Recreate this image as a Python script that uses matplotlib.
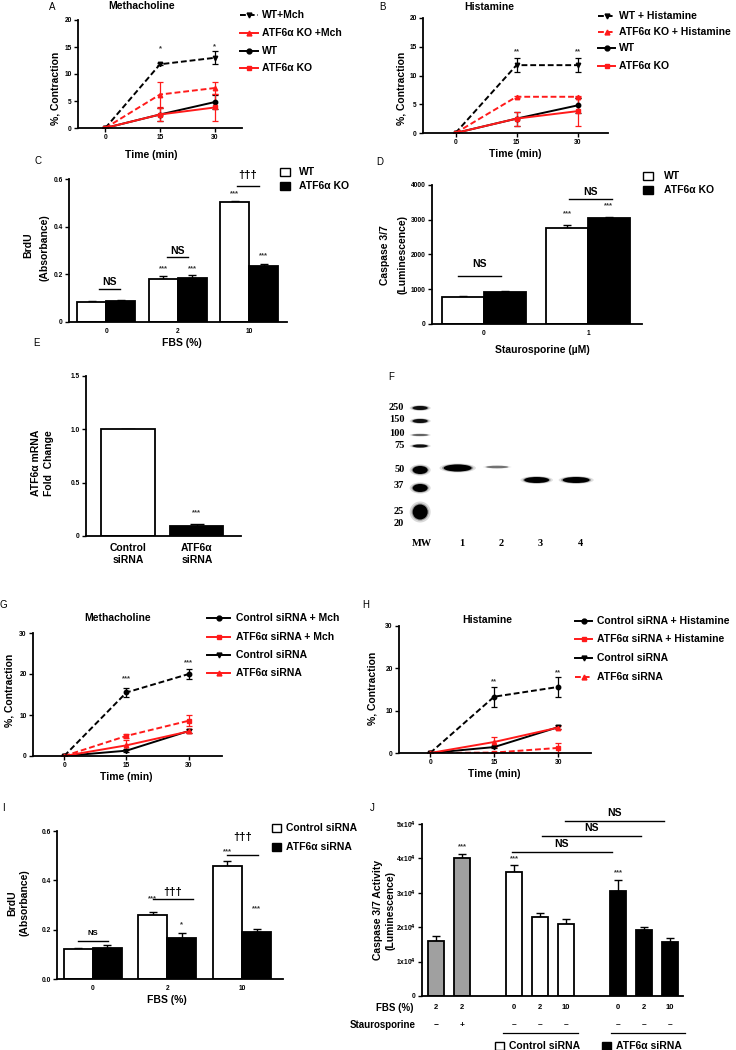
import matplotlib
matplotlib.use('Agg')
import matplotlib.pyplot as plt
from matplotlib.lines import Line2D
from matplotlib.patches import Rectangle, Ellipse
from matplotlib.transforms import blended_transform_factory

plt.rcParams['font.family'] = ['Liberation Sans', 'DejaVu Sans']
plt.rcParams['font.weight'] = 'bold'
plt.rcParams['mathtext.default'] = 'bf'

# ---------------- data ----------------
times = [0, 15, 30]

# A - methacholine, WT vs ATF6a KO
a_wt_mch = [0, 11.8, 13.0]
a_wt_mch_err = [0, 0.2, 1.2]
a_ko_mch = [0, 6.2, 7.4]
a_ko_mch_err = [0, 2.3, 1.1]
a_wt = [0, 2.5, 4.8]
a_wt_err = [0, 1.2, 1.3]
a_ko = [0, 2.5, 3.8]
a_ko_err = [0, 1.2, 2.5]
a_labels = ['WT+Mch', 'ATF6α KO +Mch', 'WT', 'ATF6α KO']

# B - histamine
b_wt_his = [0, 11.8, 11.8]
b_wt_his_err = [0, 1.2, 1.2]
b_ko_his = [0, 6.3, 6.3]
b_ko_his_err = [0, 0.2, 0.2]
b_wt = [0, 2.5, 4.8]
b_wt_err = [0, 1.2, 1.3]
b_ko = [0, 2.5, 3.8]
b_ko_err = [0, 1.2, 2.5]
b_labels = ['WT + Histamine', 'ATF6α KO + Histamine', 'WT', 'ATF6α KO']

# C - BrdU WT vs KO
fbs_levels = ['0', '2', '10']
c_wt = [0.086, 0.182, 0.505]
c_wt_err = [0.002, 0.010, 0.003]
c_ko = [0.089, 0.186, 0.234]
c_ko_err = [0.002, 0.010, 0.010]

# D - caspase WT vs KO
stauro_levels = ['0', '1']
d_wt = [780, 2760]
d_wt_err = [40, 100]
d_ko = [920, 3050]
d_ko_err = [20, 30]

# E - ATF6a mRNA
e_groups = ['Control\nsiRNA', 'ATF6α\nsiRNA']
e_vals = [1.0, 0.095]
e_err = [0.0, 0.02]

# F - western blot (kDa ladder and band migration)
mw_kda = ['250', '150', '100', '75', '50', '37', '25', '20']
mw_label_pos = [12, 25, 38, 51, 75, 90, 116, 129]
ladder_pos = [13, 26, 40, 51, 75, 93, 117]
ladder_thick = [4, 4, 2, 3, 8, 8, 15]
ladder_dark = [0.9, 0.9, 0.35, 0.9, 1.0, 1.0, 1.0]
lane_names = ['MW', '1', '2', '3', '4']
band_lane = [1, 2, 3, 4]
band_pos = [73, 72, 85, 85]
band_thick = [7, 2.5, 6, 6]
band_len = [28, 22, 25, 27]
band_dark = [1.0, 0.45, 1.0, 1.0]

# G - methacholine, siRNA
g_ctrl_mch = [0, 15.5, 20.0]
g_ctrl_mch_err = [0, 1.2, 1.2]
g_atf_mch = [0, 4.9, 8.6]
g_atf_mch_err = [0, 0.5, 1.3]
g_ctrl = [0, 1.3, 6.1]
g_ctrl_err = [0, 0.3, 0.4]
g_atf = [0, 2.6, 6.0]
g_atf_err = [0, 1.2, 0.5]
g_labels = ['Control siRNA + Mch', 'ATF6α siRNA + Mch', 'Control siRNA', 'ATF6α siRNA']

# H - histamine, siRNA
h_ctrl_his = [0, 13.3, 15.6]
h_ctrl_his_err = [0, 2.4, 2.3]
h_atf_his = [0, 0.1, 1.2]
h_atf_his_err = [0, 0.1, 1.2]
h_ctrl = [0, 1.4, 6.1]
h_ctrl_err = [0, 0.2, 0.4]
h_atf = [0, 2.6, 6.0]
h_atf_err = [0, 1.2, 0.4]
h_labels = ['Control siRNA + Histamine', 'ATF6α siRNA + Histamine', 'Control siRNA', 'ATF6α siRNA']

# I - BrdU siRNA
i_ctrl = [0.122, 0.260, 0.460]
i_ctrl_err = [0.005, 0.012, 0.020]
i_atf = [0.127, 0.165, 0.192]
i_atf_err = [0.010, 0.022, 0.012]

# J - caspase siRNA
j_pos = [0, 1, 3, 4, 5, 7, 8, 9]
j_vals = [1.6e4, 4.0e4, 3.6e4, 2.3e4, 2.1e4, 3.05e4, 1.93e4, 1.58e4]
j_err = [0.15e4, 0.12e4, 0.22e4, 0.1e4, 0.13e4, 0.33e4, 0.08e4, 0.1e4]
j_fbs = ['2', '2', '0', '2', '10', '0', '2', '10']
j_stauro = ['−', '+', '–', '–', '–', '–', '–', '–']
j_colors = ['#a0a0a0', '#a0a0a0', 'white', 'white', 'white', 'black', 'black', 'black']

RED = '#ff1a1a'
W, H = 736, 1050
fig = plt.figure(figsize=(W / 100, H / 100), dpi=100)


def px_ax(l, t, r, b):
    return fig.add_axes([l / W, 1 - b / H, (r - l) / W, (b - t) / H])


def ftext(x, y, s, **kw):
    kw.setdefault('ha', 'center')
    kw.setdefault('va', 'center')
    return fig.text(x / W, 1 - y / H, s, **kw)


def style(ax):
    for s in ['top', 'right']:
        ax.spines[s].set_visible(False)
    for s in ['left', 'bottom']:
        ax.spines[s].set_linewidth(1.3)
    ax.tick_params(width=1.0, length=3, labelsize=4.8, pad=1.5)


def legend_rows(x0, x1, xt, ys, styles, labels, fs=7.5):
    for y, (c, ls, m), lab in zip(ys, styles, labels):
        yy = 1 - y / H
        fig.add_artist(Line2D([x0 / W, x1 / W], [yy, yy], color=c, ls=ls, lw=1.4,
                              dashes=(3, 1.5) if ls == '--' else (None, None),
                              transform=fig.transFigure))
        fig.add_artist(Line2D([(x0 + x1) / 2 / W], [yy], color=c, marker=m, ms=3.5,
                              transform=fig.transFigure))
        ftext(xt, y, lab, ha='left', fontsize=fs)


def box_legend(x, xt, ys, colors, labels, fs=7.5, size=10):
    for y, c, lab in zip(ys, colors, labels):
        fig.add_artist(Rectangle(((x) / W, 1 - (y + size * 0.4) / H), size / W, size * 0.8 / H,
                                 facecolor=c, edgecolor='black', lw=1.0, transform=fig.transFigure))
        ftext(xt, y, lab, ha='left', fontsize=fs)


def line_panel(ax, series, xlim, ylim, yticks):
    for y, err, c, ls, m in series:
        ax.errorbar(times, y, yerr=err, color=c, ls=ls, marker=m, ms=3.2, lw=1.4,
                    capsize=2.5, elinewidth=0.9, capthick=0.9,
                    dashes=(3, 1.5) if ls == '--' else (None, None))
    ax.set_xlim(*xlim)
    ax.set_ylim(*ylim)
    ax.set_xticks(times)
    ax.set_yticks(yticks)
    style(ax)


def bar_pair(ax, left, left_err, right, right_err, width, lcolor, rcolor):
    xs = list(range(len(left)))
    xl = [x - width / 2 for x in xs]
    xr = [x + width / 2 for x in xs]
    for xx, v, e, c in [(xl, left, left_err, lcolor), (xr, right, right_err, rcolor)]:
        ax.bar(xx, v, width, color=c, edgecolor='black', lw=1.3, zorder=2)
        ax.errorbar(xx, v, yerr=[[0] * len(v), e], fmt='none', ecolor='black',
                    capsize=3, elinewidth=1.0, capthick=1.0, zorder=1)
    style(ax)
    return xl, xr


def sig(ax, x0, x1, y, text, ty, fs=7.5):
    ax.plot([x0, x1], [y, y], color='black', lw=1.0, clip_on=False)
    ax.text((x0 + x1) / 2, ty, text, ha='center', va='center', fontsize=fs, clip_on=False)


def star(ax, x, y, text='***', fs=5.5):
    ax.text(x, y, text, ha='center', va='center', fontsize=fs, color='#333333')


# ---------------- A ----------------
axA = px_ax(78, 20, 242, 128)
line_panel(axA, [(a_wt_mch, a_wt_mch_err, 'black', '--', 'v'),
                 (a_ko_mch, a_ko_mch_err, RED, '--', '^'),
                 (a_wt, a_wt_err, 'black', '-', 'o'),
                 (a_ko, a_ko_err, RED, '-', 's')],
           (-7.5, 37.5), (0, 20), [0, 5, 10, 15, 20])
star(axA, 15, 14.6, '*')
star(axA, 30, 15.0, '*')
ftext(52, 7, 'A', fontsize=7, fontweight='normal')
ftext(142, 6, 'Methacholine', fontsize=7.5)
ftext(151, 155, 'Time (min)', fontsize=7.5)
ftext(56, 88, '%, Contraction', fontsize=7.5, rotation=90)
legend_rows(240, 258, 262, [15, 33, 51, 68],
            [('black', '--', 'v'), (RED, '-', '^'), ('black', '-', 'o'), (RED, '-', 's')], a_labels)

# ---------------- B ----------------
axB = px_ax(423, 18, 608, 133)
line_panel(axB, [(b_wt_his, b_wt_his_err, 'black', '--', 'v'),
                 (b_ko_his, b_ko_his_err, RED, '--', '^'),
                 (b_wt, b_wt_err, 'black', '-', 'o'),
                 (b_ko, b_ko_err, RED, '-', 's')],
           (-8, 37.5), (0, 20), [0, 5, 10, 15, 20])
star(axB, 15, 14.1, '**')
star(axB, 30, 14.1, '**')
ftext(382, 7, 'B', fontsize=7, fontweight='normal')
ftext(489, 7, 'Histamine', fontsize=7.5)
ftext(515, 154, 'Time (min)', fontsize=7.5)
ftext(402, 88, '%, Contraction', fontsize=7.5, rotation=90)
legend_rows(598, 615, 619, [16, 32, 48, 66],
            [('black', '--', 'v'), (RED, '--', '^'), ('black', '-', 'o'), (RED, '-', 's')], b_labels)

# ---------------- C ----------------
axC = px_ax(69, 179, 287, 322)
w = 0.405
xl, xr = bar_pair(axC, c_wt, c_wt_err, c_ko, c_ko_err, w, 'white', 'black')
axC.set_xlim(-0.52, 2.53)
axC.set_ylim(0, 0.6)
axC.set_yticks([0, 0.2, 0.4, 0.6], ['0', '0.2', '0.4', '0.6'])
axC.set_xticks(range(3), fbs_levels)
axC.tick_params(axis='x', length=0, pad=4)
sig(axC, -0.1, 0.2, 0.138, 'NS', 0.166)
sig(axC, 0.85, 1.15, 0.273, 'NS', 0.30)
sig(axC, 1.83, 2.14, 0.571, '†††', 0.617, fs=8)
star(axC, xl[1], 0.222); star(axC, xr[1], 0.222)
star(axC, xl[2], 0.538); star(axC, xr[2], 0.277)
ftext(38, 161, 'C', fontsize=7, fontweight='normal')
ftext(182, 343, 'FBS (%)', fontsize=7.5)
ftext(28, 245, 'BrdU', fontsize=7.5, rotation=90)
ftext(45, 248, '(Absorbance)', fontsize=7.5, rotation=90)
box_legend(280, 299, [172, 186], ['white', 'black'], ['WT', 'ATF6α KO'])

# ---------------- D ----------------
axD = px_ax(432, 185, 642, 324)
xl, xr = bar_pair(axD, d_wt, d_wt_err, d_ko, d_ko_err, 0.4, 'white', 'black')
axD.set_xlim(-0.5, 1.52)
axD.set_ylim(0, 4000)
axD.set_yticks([0, 1000, 2000, 3000, 4000])
axD.set_xticks(range(2), stauro_levels)
axD.tick_params(axis='x', length=0, pad=4)
sig(axD, -0.25, 0.16, 1381, 'NS', 1727)
sig(axD, 0.82, 1.23, 3597, 'NS', 3810)
star(axD, xl[1], 3165); star(axD, xr[1], 3396)
ftext(380, 162, 'D', fontsize=7, fontweight='normal')
ftext(542, 350, 'Staurosporine (µM)', fontsize=7.5)
ftext(385, 255, 'Caspase 3/7', fontsize=7.5, rotation=90)
ftext(402, 255, '(Luminescence)', fontsize=7.5, rotation=90)
box_legend(643, 664, [176, 190], ['white', 'black'], ['WT', 'ATF6α KO'])

# ---------------- E ----------------
axE = px_ax(86, 376, 241, 536)
axE.bar(range(2), e_vals, 0.77, color=['white', 'black'], edgecolor='black', lw=1.3, zorder=2)
axE.errorbar(range(2), e_vals, yerr=[[0, 0], e_err], fmt='none', ecolor='black',
             capsize=5, elinewidth=1.0, capthick=1.0, zorder=1)
style(axE)
axE.set_xlim(-0.61, 1.64)
axE.set_ylim(0, 1.5)
axE.set_yticks([0, 0.5, 1.0, 1.5], ['0', '0.5', '1.0', '1.5'])
axE.set_xticks(range(2), e_groups)
axE.tick_params(axis='x', length=0, pad=5, labelsize=7.5)
star(axE, 1, 0.216)
ftext(37, 343, 'E', fontsize=7, fontweight='normal')
ftext(36, 463, 'ATF6α mRNA', fontsize=7.5, rotation=90)
ftext(49, 463, 'Fold  Change', fontsize=7.5, rotation=90)

# ---------------- F ----------------
axF = px_ax(370, 395, 620, 555)
axF.set_xlim(-1.27, 5.06)
axF.set_ylim(160, 0)
axF.axis('off')
lane_px = 39.5
for p, t, d in zip(ladder_pos, ladder_thick, ladder_dark):
    for k, a in [(1.4, 0.15), (1.15, 0.3), (1.0, d)]:
        axF.add_patch(Ellipse((0, p), 15 * k / lane_px, t * k, facecolor='black', alpha=a, lw=0))
for ln, p, t, L, d in zip(band_lane, band_pos, band_thick, band_len, band_dark):
    for k, a in [(1.3, 0.12 * d), (1.12, 0.3 * d), (1.0, d)]:
        axF.add_patch(Ellipse((ln - 0.05, p), L * k / lane_px, t * k, facecolor='black', alpha=a, lw=0))
for lab, p in zip(mw_kda, mw_label_pos):
    axF.text(-0.4, p, lab, ha='right', va='center', fontsize=7.5, family='Liberation Serif')
for i, lab in enumerate(lane_names):
    axF.text(i + 0.05, 149, lab, ha='center', va='center', fontsize=7.5,
             family='Liberation Serif')
ftext(391, 377, 'F', fontsize=7, fontweight='normal')

# ---------------- G ----------------
axG = px_ax(33, 633, 222, 756)
line_panel(axG, [(g_ctrl_mch, g_ctrl_mch_err, 'black', '--', 'o'),
                 (g_atf_mch, g_atf_mch_err, RED, '--', 's'),
                 (g_ctrl, g_ctrl_err, 'black', '-', 'v'),
                 (g_atf, g_atf_err, RED, '-', '^')],
           (-7.5, 38), (0, 30), [0, 10, 20, 30])
star(axG, 15, 18.8)
star(axG, 30, 22.7)
ftext(3, 605, 'G', fontsize=7, fontweight='normal')
ftext(118, 618, 'Methacholine', fontsize=7.5)
ftext(126, 777, 'Time (min)', fontsize=7.5)
ftext(10, 690, '%, Contraction', fontsize=7.5, rotation=90)
legend_rows(207, 230, 236, [618, 637, 655, 673],
            [('black', '-', 'o'), (RED, '-', 's'), ('black', '-', 'v'), (RED, '-', '^')], g_labels)

# ---------------- H ----------------
axH = px_ax(399, 626, 591, 753)
line_panel(axH, [(h_ctrl_his, h_ctrl_his_err, 'black', '--', 'o'),
                 (h_atf_his, h_atf_his_err, RED, '--', 's'),
                 (h_ctrl, h_ctrl_err, 'black', '-', 'v'),
                 (h_atf, h_atf_err, RED, '-', '^')],
           (-7.3, 37.7), (0, 30), [0, 10, 20, 30])
star(axH, 15, 16.8, '**')
star(axH, 30, 18.9, '**')
ftext(366, 605, 'H', fontsize=7, fontweight='normal')
ftext(487, 620, 'Histamine', fontsize=7.5)
ftext(494, 774, 'Time (min)', fontsize=7.5)
ftext(373, 688, '%, Contraction', fontsize=7.5, rotation=90)
legend_rows(575, 592, 597, [621, 639, 658, 677],
            [('black', '-', 'o'), (RED, '-', 's'), ('black', '-', 'v'), (RED, '--', '^')], h_labels)

# ---------------- I ----------------
axI = px_ax(57, 831, 283, 979)
xl, xr = bar_pair(axI, i_ctrl, i_ctrl_err, i_atf, i_atf_err, 0.39, 'white', 'black')
axI.set_xlim(-0.48, 2.55)
axI.set_ylim(0, 0.6)
axI.set_yticks([0, 0.2, 0.4, 0.6], ['0.0', '0.2', '0.4', '0.6'])
axI.set_xticks(range(3), fbs_levels)
axI.tick_params(axis='x', length=0, pad=4)
sig(axI, -0.2, 0.21, 0.154, 'NS', 0.186, fs=5.5)
sig(axI, 0.81, 1.34, 0.324, '†††', 0.353, fs=8)
sig(axI, 1.8, 2.21, 0.503, '†††', 0.576, fs=8)
star(axI, xl[1], 0.325); star(axI, xr[1], 0.219, '*')
star(axI, xl[2], 0.515); star(axI, xr[2], 0.284)
ftext(3, 808, 'I', fontsize=7, fontweight='normal')
ftext(167, 1000, 'FBS (%)', fontsize=7.5)
ftext(12, 903, 'BrdU', fontsize=7.5, rotation=90)
ftext(25, 903, '(Absorbance)', fontsize=7.5, rotation=90)
box_legend(272, 286, [828, 847], ['white', 'black'], ['Control siRNA', 'ATF6α siRNA'], size=9)

# ---------------- J ----------------
axJ = px_ax(422, 824, 683, 996)
axJ.bar(j_pos, j_vals, 0.6, color=j_colors, edgecolor='black', lw=1.3, zorder=2)
axJ.errorbar(j_pos, j_vals, yerr=[[0] * len(j_vals), j_err], fmt='none', ecolor='black',
             capsize=3, elinewidth=1.0, capthick=1.0, zorder=1)
style(axJ)
axJ.set_xlim(-0.54, 9.5)
axJ.set_ylim(0, 5e4)
axJ.set_yticks([0, 1e4, 2e4, 3e4, 4e4, 5e4],
               ['0', '1x10$^4$', '2x10$^4$', '3x10$^4$', '4x10$^4$', '5x10$^4$'])
axJ.set_xticks(j_pos, j_fbs)
axJ.tick_params(axis='x', length=0, pad=6, labelsize=5.5)
tJ = blended_transform_factory(axJ.transData, axJ.transAxes)
for x, s in zip(j_pos, j_stauro):
    axJ.text(x, -29 / 172, s, transform=tJ, ha='center', va='center', fontsize=6)
axJ.plot([2.58, 5.46], [-37 / 172] * 2, transform=tJ, color='black', lw=0.9, clip_on=False)
axJ.plot([6.73, 9.58], [-37 / 172] * 2, transform=tJ, color='black', lw=0.9, clip_on=False)
star(axJ, 1, 43300); star(axJ, 3, 39800); star(axJ, 7, 35800)
sig(axJ, 2.92, 6.77, 41900, 'NS', 44300)
sig(axJ, 4.08, 7.88, 46500, 'NS', 48900)
sig(axJ, 4.96, 8.77, 50900, 'NS', 53300)
ftext(372, 808, 'J', fontsize=7, fontweight='normal')
ftext(414, 1008, 'FBS (%)', fontsize=7, ha='right')
ftext(416, 1025, 'Staurosporine', fontsize=7, ha='right')
ftext(378, 910, 'Caspase 3/7 Activity', fontsize=7.5, rotation=90)
ftext(391, 910, '(Luminescence)', fontsize=7.5, rotation=90)
box_legend(495, 509, [1046], ['white'], ['Control siRNA'], size=9)
box_legend(602, 616, [1046], ['black'], ['ATF6α siRNA'], size=9)

fig.savefig('out.png', dpi=100)
